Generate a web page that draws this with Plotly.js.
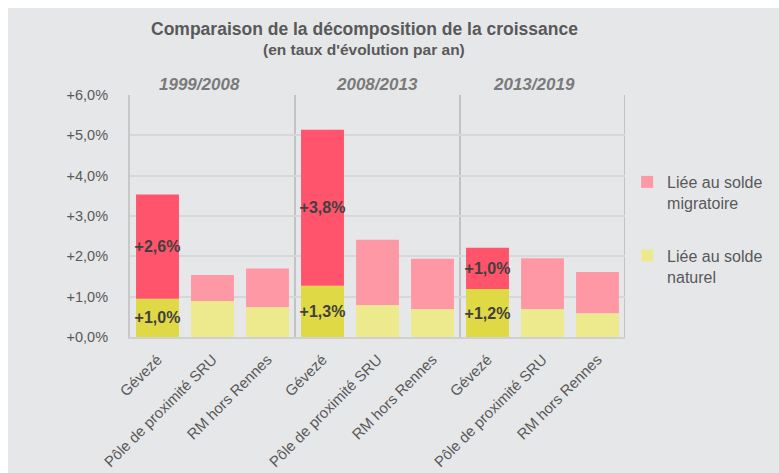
<!DOCTYPE html>
<html>
<head>
<meta charset="utf-8">
<script src="https://cdn.plot.ly/plotly-3.0.1.min.js"></script>
<style>
  html, body { margin: 0; padding: 0; background: #ffffff; }
  #chart { position: absolute; left: 8px; top: 8px; width: 771px; height: 465px; }
</style>
</head>
<body>
<div id="chart"></div>
<script>
// ---- Data ----
const periods = ["1999/2008", "2008/2013", "2013/2019"];
const territories = ["Gévezé", "Pôle de proximité SRU", "RM hors Rennes"];
const highlight = "Gévezé";
// growth rate (% per year) linked to natural balance, per period x territory
const naturel = [0.95, 0.89, 0.74, 1.27, 0.79, 0.69, 1.19, 0.69, 0.58];
// growth rate (% per year) linked to migratory balance
const migratoire = [2.58, 0.65, 0.96, 3.87, 1.62, 1.25, 1.02, 1.26, 1.03];
// data labels shown on the highlighted bars
const naturelLabels = ["+1,0%", "", "", "+1,3%", "", "", "+1,2%", "", ""];
const migratoireLabels = ["+2,6%", "", "", "+3,8%", "", "", "+1,0%", "", ""];
// y-axis ticks
const yTickValues = [0, 1, 2, 3, 4, 5, 6];
const yTickLabels = ["+0,0%", "+1,0%", "+2,0%", "+3,0%", "+4,0%", "+5,0%", "+6,0%"];
const seriesNames = ["Liée au solde<br>migratoire", "Liée au solde<br>naturel"];
const titleText = "Comparaison de la décomposition de la croissance";
const subtitleText = "(en taux d'évolution par an)";

// ---- Build positions ----
const xs = [], tickText = [];
periods.forEach((p, pi) => territories.forEach((t, ti) => {
  xs.push(pi * territories.length + ti);
  tickText.push(t);
}));
const isHi = tickText.map(t => t === highlight);
const mask = (arr, keep) => arr.map((v, i) => keep(i) ? v : null);

const colors = {
  natLight: "#ede98d", natDark: "#e0d946",
  migLight: "#ff98a5", migDark: "#ff546b"
};
const grey = "#595959";
const sans = "Liberation Sans, Arial, sans-serif";
const labelFont = { family: sans, size: 16, color: "#404040", weight: "bold" };

const common = { type: "bar", x: xs, marker: { line: { width: 0 } }, hoverinfo: "y+name" };

const traces = [
  Object.assign({}, common, {
    name: seriesNames[0], legendgroup: "mig",
    y: mask(migratoire, i => !isHi[i]), marker: { color: colors.migLight },
    base: mask(naturel, i => !isHi[i])
  }),
  Object.assign({}, common, {
    name: seriesNames[1], legendgroup: "nat",
    y: mask(naturel, i => !isHi[i]), marker: { color: colors.natLight }
  }),
  Object.assign({}, common, {
    name: seriesNames[1], legendgroup: "nat", showlegend: false,
    y: mask(naturel, i => isHi[i]), marker: { color: colors.natDark },
    text: naturelLabels, textposition: "inside", insidetextanchor: "middle",
    textangle: 0, constraintext: "none", textfont: labelFont
  }),
  Object.assign({}, common, {
    name: seriesNames[0], legendgroup: "mig", showlegend: false,
    y: mask(migratoire, i => isHi[i]), marker: { color: colors.migDark },
    base: mask(naturel, i => isHi[i]),
    text: migratoireLabels, textposition: "inside", insidetextanchor: "middle",
    textangle: 0, constraintext: "none", textfont: labelFont
  })
];

const n = territories.length;
const shapes = periods.map((p, pi) => ({
  type: "line", xref: "x", yref: "paper",
  x0: (pi + 1) * n - 0.5, x1: (pi + 1) * n - 0.5, y0: 0, y1: 1,
  line: { color: "#c3c3c3", width: 2 }, layer: "below"
}));

const periodLabelX = [0.76, 3.99, 6.85];
const annotations = periods.map((p, pi) => ({
  text: p, xref: "x", yref: "paper", x: periodLabelX[pi], y: 1.045,
  xanchor: "center", yanchor: "middle", showarrow: false,
  font: { family: sans, size: 17, color: "#7a7a7a", weight: "bold", style: "italic" }
}));
annotations.push({
  text: subtitleText, xref: "paper", yref: "paper", x: 0.4737, y: 1.186,
  xanchor: "center", yanchor: "middle", showarrow: false,
  font: { family: sans, size: 15.5, color: grey, weight: "bold" }
});

const layout = {
  width: 771, height: 465,
  margin: { l: 122, r: 154, t: 87, b: 136 },
  paper_bgcolor: "#e6e7e9", plot_bgcolor: "#e6e7e9",
  font: { family: sans, color: grey, size: 14 },
  barmode: "overlay", bargap: 0.22,
  title: {
    text: titleText, xref: "container", yref: "container",
    x: 0.4624, xanchor: "center", y: 1 - 21 / 465, yanchor: "middle",
    font: { family: sans, size: 17.5, color: grey, weight: "bold" }
  },
  xaxis: {
    range: [-0.5, xs.length - 0.5], tickmode: "array", tickvals: xs, ticktext: tickText,
    tickangle: -45, tickfont: { family: sans, size: 15, color: grey },
    showgrid: false, zeroline: false, showline: true, linecolor: "#d0d0d0", linewidth: 2,
    ticks: "outside", ticklen: 6, tickcolor: "rgba(0,0,0,0)", fixedrange: true
  },
  yaxis: {
    range: [0, 6], tickmode: "array", tickvals: yTickValues, ticktext: yTickLabels,
    tickfont: { family: sans, size: 14.5, color: grey },
    showgrid: true, gridcolor: "#d6d7d9", gridwidth: 2,
    zeroline: false, showline: true, linecolor: "#c8c8c8", linewidth: 2,
    ticks: "outside", ticklen: 17, tickcolor: "rgba(0,0,0,0)", fixedrange: true
  },
  legend: {
    xref: "container", yref: "container",
    x: 0.803, xanchor: "left", y: 0.6624, yanchor: "top",
    traceorder: "grouped", tracegroupgap: 29, valign: "top",
    font: { family: sans, size: 16, color: grey }, bgcolor: "rgba(0,0,0,0)"
  },
  shapes: shapes,
  annotations: annotations
};

Plotly.newPlot("chart", traces, layout, { displayModeBar: false });
</script>
</body>
</html>
